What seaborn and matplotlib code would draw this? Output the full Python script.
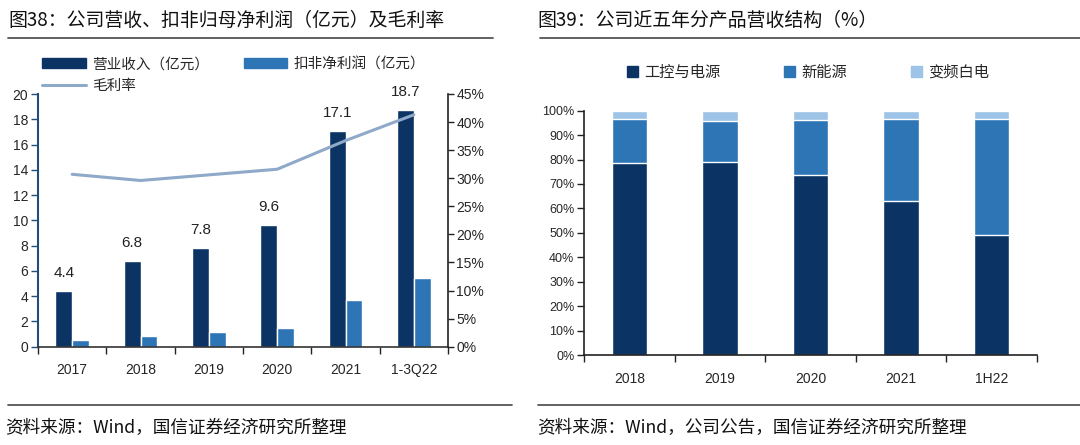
import numpy as np
import pandas as pd
import matplotlib.pyplot as plt
import seaborn as sns
from matplotlib.patches import Patch
from matplotlib.lines import Line2D
from matplotlib.ticker import PercentFormatter, MultipleLocator


# 数据：图38
years_l = ["2017", "2018", "2019", "2020", "2021", "1-3Q22"]
revenue = [4.4, 6.8, 7.8, 9.6, 17.1, 18.7]
net_profit = [0.5, 0.85, 1.2, 1.5, 3.7, 5.45]
gross_margin = [30.7, 29.6, 30.6, 31.6, 36.7, 41.3]

# 数据：图39
years_r = ["2018", "2019", "2020", "2021", "1H22"]
seg_power = [78.5, 79.0, 73.7, 63.0, 49.2]
seg_newenergy = [18.0, 16.9, 22.5, 33.5, 47.3]
seg_appliance = [3.5, 4.1, 3.8, 3.5, 3.5]

DARK = "#0B3464"
MID = "#2E75B6"
LIGHT = "#9DC3E6"
LINE = "#8FA9C9"

sns.set_style("ticks")
plt.rcParams["font.family"] = ["Liberation Sans", "Noto Sans CJK SC", "DejaVu Sans"]
CJK = ["Noto Sans CJK SC", "DejaVu Sans"]

fig = plt.figure(figsize=(10.8, 4.45), dpi=100)

# ---------------- 左图 ----------------
ax = fig.add_axes([38/1080, 98.3/445, 410/1080, 252.7/445])
df_l = pd.DataFrame({
    "year": years_l * 2,
    "value": revenue + net_profit,
    "series": ["营业收入（亿元）"] * 6 + ["扣非净利润（亿元）"] * 6,
})
sns.barplot(data=df_l, x="year", y="value", hue="series", palette=[DARK, MID],
            width=0.49, saturation=1, gap=0, legend=False, ax=ax)
ax.bar_label(ax.containers[0], labels=[f"{v:.1f}" for v in revenue],
             padding=8, fontsize=11, color="#222222")
ax.set_xlim(-0.5, 5.5)
ax.set_ylim(0, 20)
ax.yaxis.set_major_locator(MultipleLocator(2))
ax.set_xlabel("")
ax.set_ylabel("")
ax.tick_params(axis="x", which="major", length=0, labelsize=10, pad=12)
ax.set_xticks(np.arange(-0.5, 6, 1), minor=True)
ax.tick_params(axis="x", which="minor", length=5, width=1, color="#222222")
ax.tick_params(axis="y", length=5, width=1, color="#1F4E79", labelsize=10, pad=2)
ax.spines["left"].set_color("#1F4E79")
ax.spines["left"].set_linewidth(1.5)
ax.spines["bottom"].set_color("#333333")
ax.spines["bottom"].set_linewidth(1.2)
sns.despine(ax=ax, top=True, right=True)

ax2 = ax.twinx()
sns.lineplot(x=np.arange(len(years_l)), y=gross_margin, color=LINE, linewidth=2.2, ax=ax2)
ax2.set_ylim(0, 45)
ax2.yaxis.set_major_locator(MultipleLocator(5))
ax2.yaxis.set_major_formatter(PercentFormatter(decimals=0))
ax2.tick_params(axis="y", length=4, width=1, color="#222222", labelsize=10, pad=2)
for s in ["top", "left", "bottom"]:
    ax2.spines[s].set_visible(False)
ax2.spines["right"].set_color("#222222")
ax2.spines["right"].set_linewidth(1.2)

h_l = [Patch(color=DARK), Line2D([], [], color=LINE, lw=2.2), Patch(color=MID)]
lab_l = ["营业收入（亿元）", "毛利率", "扣非净利润（亿元）"]
fig.legend(h_l, lab_l, ncol=2, loc="upper left", bbox_to_anchor=(42/1080, 1 - 57/445),
           frameon=False, borderpad=0, borderaxespad=0, handlelength=3.0, handleheight=0.6,
           handletextpad=0.4, columnspacing=2.4, labelspacing=0.55,
           prop={"family": CJK, "size": 10.5})

# ---------------- 右图 ----------------
axr = fig.add_axes([584/1080, 90/445, 453/1080, 244.3/445])
cum2 = np.array(seg_power) + np.array(seg_newenergy)
cum3 = cum2 + np.array(seg_appliance)
for vals, col in [(cum3, LIGHT), (cum2, MID), (seg_power, DARK)]:
    sns.barplot(x=years_r, y=vals, color=col, width=0.39, saturation=1, ax=axr)
axr.set_xlim(-0.5, 4.5)
axr.set_ylim(0, 100)
axr.yaxis.set_major_locator(MultipleLocator(10))
axr.yaxis.set_major_formatter(PercentFormatter(decimals=0))
axr.tick_params(axis="x", which="major", length=0, labelsize=10, pad=12)
axr.set_xticks(np.arange(-0.5, 5, 1), minor=True)
axr.tick_params(axis="x", which="minor", length=5, width=1, color="#222222")
axr.tick_params(axis="y", length=5, width=1, color="#222222", labelsize=9, pad=2)
for s in ["left", "bottom"]:
    axr.spines[s].set_color("#222222")
    axr.spines[s].set_linewidth(1.2)
sns.despine(ax=axr, top=True, right=True)

h_r = [Patch(color=DARK), Patch(color=MID), Patch(color=LIGHT)]
fig.legend(h_r, ["工控与电源", "新能源", "变频白电"], ncol=3, loc="center",
           bbox_to_anchor=(808/1080, 1 - 72/445), frameon=False, borderpad=0,
           handlelength=0.7, handleheight=0.7, handletextpad=0.4, columnspacing=4.2,
           prop={"family": CJK, "size": 11})

# ---------------- 标题与来源 ----------------
fig.text(8/1080, 1 - 20/445, "图38：公司营收、扣非归母净利润（亿元）及毛利率",
         fontsize=13.6, family=CJK, va="center", ha="left", color="#111111")
fig.text(537/1080, 1 - 20/445, "图39：公司近五年分产品营收结构（%）",
         fontsize=13.6, family=CJK, va="center", ha="left", color="#111111")
for x0, x1 in [(8, 493), (540, 1080)]:
    fig.add_artist(Line2D([x0/1080, x1/1080], [1 - 38/445] * 2, color="#555555", lw=1.3))
for x0, x1 in [(8, 512), (538, 1080)]:
    fig.add_artist(Line2D([x0/1080, x1/1080], [1 - 405/445] * 2, color="#555555", lw=1.3))
fig.text(5/1080, 1 - 428/445, "资料来源：Wind，国信证券经济研究所整理",
         fontsize=12.7, family=CJK, va="center", ha="left", color="#111111")
fig.text(537/1080, 1 - 428/445, "资料来源：Wind，公司公告，国信证券经济研究所整理",
         fontsize=12.7, family=CJK, va="center", ha="left", color="#111111")

fig.savefig("out.png", dpi=100)
